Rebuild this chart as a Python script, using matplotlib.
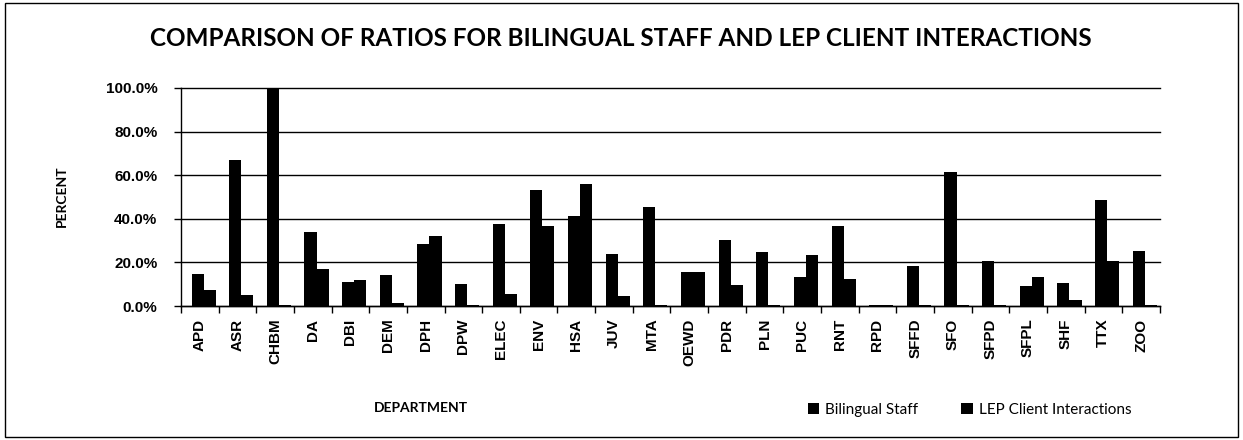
import matplotlib
matplotlib.use("Agg")
import matplotlib.pyplot as plt
import numpy as np
from matplotlib.patches import Rectangle
from matplotlib.ticker import PercentFormatter, FixedLocator

departments = ["APD", "ASR", "CHBM", "DA", "DBI", "DEM", "DPH", "DPW", "ELEC", "ENV",
               "HSA", "JUV", "MTA", "OEWD", "PDR", "PLN", "PUC", "RNT", "RPD", "SFFD",
               "SFO", "SFPD", "SFPL", "SHF", "TTX", "ZOO"]
bilingual_staff = [14.6, 67.0, 100.0, 34.0, 10.8, 14.3, 28.5, 10.0, 37.7, 53.0,
                   41.5, 23.7, 45.2, 15.5, 30.3, 24.8, 13.4, 36.6, 0.6, 18.5,
                   61.5, 20.8, 9.2, 10.5, 48.5, 25.2]
lep_interactions = [7.2, 4.9, 0.5, 17.2, 11.8, 1.5, 32.3, 0.4, 5.7, 36.5,
                    55.8, 4.5, 0.4, 15.7, 9.5, 0.5, 23.5, 12.3, 0.6, 0.4,
                    0.4, 0.4, 13.4, 2.9, 20.8, 0.4]
y_ticks = [0, 20, 40, 60, 80, 100]

fig = plt.figure(figsize=(12.43, 4.4), dpi=100)
ax = fig.add_axes([0.1456, 0.3045, 0.7875, 0.4955])

x = np.arange(len(departments))
w = 0.32
ax.bar(x - w / 2 + 0.1, bilingual_staff, width=w, color="black", label="Bilingual Staff")
ax.bar(x + w / 2 + 0.1, lep_interactions, width=w, color="black", label="LEP Client Interactions")

ax.set_xlim(-0.5, len(departments) - 0.5)
ax.set_ylim(0, 100)
for v in y_ticks:
    ax.axhline(v, color="black", lw=1.0, zorder=0, clip_on=False)

ax.spines["top"].set_visible(False)
ax.spines["right"].set_visible(False)
ax.spines["left"].set_linewidth(1.0)
ax.spines["bottom"].set_linewidth(1.0)

ax.set_yticks(y_ticks)
ax.yaxis.set_major_formatter(PercentFormatter(decimals=1))
ax.tick_params(axis="y", direction="out", length=5, width=1, pad=12, labelsize=11)
for lbl in ax.get_yticklabels():
    lbl.set_fontweight("bold")
    lbl.set_family("Liberation Sans")

ax.set_xticks(x)
ax.set_xticklabels(departments, rotation=90, fontsize=11, fontweight="bold",
                   family="Liberation Sans")
ax.tick_params(axis="x", which="major", length=0, pad=9)
ax.xaxis.set_minor_locator(FixedLocator(np.arange(-0.5, len(departments), 1.0)))
ax.tick_params(axis="x", which="minor", direction="out", length=5, width=1)

fig.text(0.050, 0.555, "PERCENT", rotation=90, ha="center", va="center",
         fontsize=10, fontweight="bold", family="Lato")
fig.text(0.339, 0.072, "DEPARTMENT", ha="center", va="center",
         fontsize=10, fontweight="bold", family="Lato")
fig.text(0.4995, 0.913, "COMPARISON OF RATIOS FOR BILINGUAL STAFF AND LEP CLIENT INTERACTIONS",
         ha="center", va="center", fontsize=17.5, fontweight="bold", family="Lato")

leg = fig.legend(loc="center", bbox_to_anchor=(0.78, 0.068), ncol=2, frameon=False,
                 prop={"family": "Lato", "size": 11}, handlelength=0.75, handleheight=0.75,
                 handletextpad=0.4, columnspacing=2.8)

fig.patches.append(Rectangle((0.004, 0.007), 0.992, 0.986, transform=fig.transFigure,
                             fill=False, edgecolor="black", lw=1.0))

fig.savefig("out.png", dpi=100)
